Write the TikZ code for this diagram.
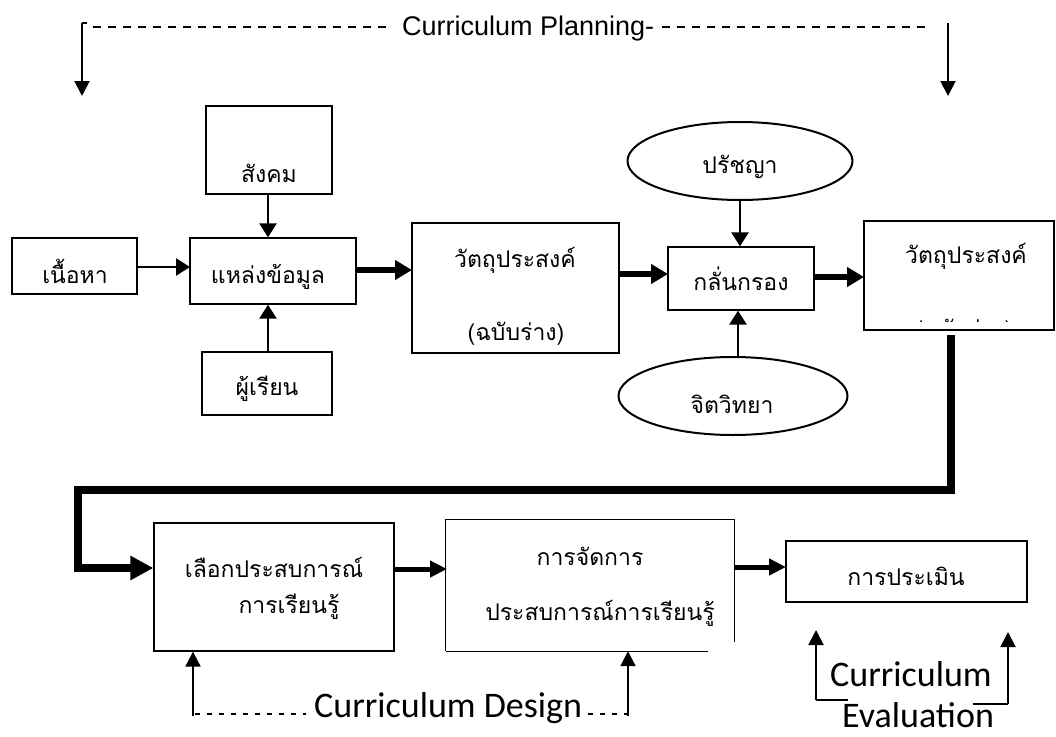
\documentclass[tikz,border=0pt]{standalone}
\usepackage{fontspec}
\setmainfont{Liberation Sans}
\newfontfamily\thaifont[Script=Thai]{Loma}
\newfontfamily\calfont{Carlito}
\newfontfamily\arialfont{Liberation Sans}
\usetikzlibrary{arrows.meta,shapes.geometric}
\begin{document}
\begin{tikzpicture}[x=1pt,y=-1pt,
  box/.style={draw,line width=1.3pt,rectangle,inner sep=0pt},
  oval/.style={draw,line width=2pt,ellipse,inner sep=0pt},
  thai/.style={font=\thaifont\fontsize{23}{27}\selectfont,inner sep=0pt},
  cal/.style={font=\calfont\fontsize{36}{40}\selectfont,inner sep=0pt},
  thinarrow/.style={line width=2.5pt,-{Triangle[width=17pt,length=14pt]}},
  thickarrow/.style={line width=6.5pt,-{Triangle[width=19pt,length=17pt]}},
  midarrow/.style={line width=5pt,-{Triangle[width=16pt,length=17pt]}},
  bigarrow/.style={line width=8pt,-{Triangle[width=23pt,length=23pt]}},
  notearrow/.style={line width=2pt,-{Triangle[width=15pt,length=15pt]}},
  dashline/.style={line width=1.2pt,dash pattern=on 8pt off 7pt},
  shortdash/.style={line width=1.2pt,dash pattern=on 5pt off 7pt}]
\useasboundingbox (0,0) rectangle (1056,736);

% ---------- top: Curriculum Planning ----------
\coordinate (pl1) at (82,23);
\coordinate (pl2) at (82,96);
\coordinate (pr1) at (948,23);
\coordinate (pr2) at (948,96);
\draw[line width=2pt] (87,23) -- (82,23);
\draw[notearrow] (pl1) -- (pl2);
\draw[notearrow] (pr1) -- (pr2);
\draw[dashline] (93,27) -- (392,27);
\draw[dashline] (662,27) -- (930,27);
\node[font=\arialfont\fontsize{27}{30}\selectfont,inner sep=0pt,anchor=base west] (tplan) at (402,35) {Curriculum Planning-};

% ---------- upper row ----------
\node[box,minimum width=125pt,minimum height=56pt] (content) at (74.5,266) {};
\node[box,minimum width=166pt,minimum height=66pt] (source) at (273,271) {};
\node[box,minimum width=126pt,minimum height=88pt] (society) at (269,150) {};
\node[box,minimum width=130pt,minimum height=63pt] (learner) at (267,383.5) {};
\node[box,minimum width=207pt,minimum height=130pt] (obj1) at (515.5,288) {};
\node[box,minimum width=146pt,minimum height=63pt] (filter) at (741,278.5) {};
\node[oval,minimum width=225pt,minimum height=78pt] (phil) at (740,161) {};
\node[oval,minimum width=229pt,minimum height=78pt] (psy) at (733,396) {};
\node[box,minimum width=190pt,minimum height=109pt] (obj2) at (959,275.5) {};

\node[thai,anchor=base] (tcontent) at (75,283) {เนื้อหา};
\node[thai,anchor=base] (tsource) at (268,283) {แหล่งข้อมูล};
\node[thai,anchor=base] (tsociety) at (269,182) {สังคม};
\node[thai,anchor=base] (tlearner) at (267,395) {ผู้เรียน};
\node[thai,anchor=base] (tobj1a) at (515,267) {วัตถุประสงค์};
\node[thai,anchor=base] (tobj1b) at (516,340) {(ฉบับร่าง)};
\node[thai,anchor=base] (tfilter) at (741,290) {กลั่นกรอง};
\node[thai,anchor=base] (tphil) at (740,173) {ปรัชญา};
\node[thai,anchor=base] (tpsy) at (732,413) {จิตวิทยา};
\node[thai,anchor=base] (tobj2a) at (966,263) {วัตถุประสงค์};
\begin{scope}
  \clip (866,300) rectangle (1052,321);
  \node[thai,anchor=base] (tobj2b) at (964,337) {(ฉบับร่าง)};
\end{scope}

% connectors upper row
\coordinate (c1) at (137,267);
\coordinate (c1e) at (190,267);
\draw[thinarrow] (c1) -- (c1e);
\draw[thinarrow] (society.south -| 268,0) -- (source.north -| 268,0);
\draw[thinarrow] (learner.north -| 268,0) -- (source.south -| 268,0);
\coordinate (c2) at (357,270);
\coordinate (c2e) at (412,270);
\draw[thickarrow] (c2) -- (c2e);
\coordinate (c3) at (619,274);
\coordinate (c3e) at (668,274);
\draw[thickarrow] (c3) -- (c3e);
\draw[thinarrow] (phil.south -| 740,0) -- (filter.north -| 740,0);
\draw[thinarrow] (psy.north -| 738,0) -- (filter.south -| 738,0);
\coordinate (c4) at (814,277);
\coordinate (c4e) at (864,277);
\draw[thickarrow] (c4) -- (c4e);

% ---------- lower row ----------
\node[box,minimum width=240pt,minimum height=128pt] (select) at (274,587) {};
\node[draw=none,minimum width=288pt,minimum height=131pt,inner sep=0pt] (manage) at (590,585.5) {};
\draw[line width=1.3pt] (manage.south west) -- (manage.north west) -- (manage.north east) -- ([yshift=9pt]manage.south east);
\draw[line width=1.3pt] (manage.south west) -- ([xshift=-26pt]manage.south east);
\node[box,minimum width=241pt,minimum height=61pt] (eval) at (906.5,571.5) {};

\node[thai,anchor=base] (tselect1) at (274,577) {เลือกประสบการณ์};
\node[thai,anchor=base] (tselect2) at (289,613) {การเรียนรู้};
\node[thai,anchor=base] (tmanage1) at (590,565) {การจัดการ};
\node[thai,anchor=base] (tmanage2) at (600,620) {ประสบการณ์การเรียนรู้};
\node[thai,anchor=base] (teval) at (906,585) {การประเมิน};

% big connector
\coordinate (b0) at (951,335);
\coordinate (b1) at (951,490);
\coordinate (b2) at (78,490);
\coordinate (b3) at (78,568);
\draw[bigarrow] (b0) -- (b1) -- (b2) -- (b3) -- (b3 -| select.west);

\coordinate (c5) at (394,569);
\coordinate (c5e) at (447,569);
\draw[midarrow] (c5) -- (c5e);
\coordinate (c6) at (734,567);
\coordinate (c6e) at (786,567);
\draw[midarrow] (c6) -- (c6e);

% ---------- Curriculum Design ----------
\coordinate (d1) at (193,716);
\coordinate (d2) at (628,716);
\draw[notearrow] (d1) -- (d1 |- select.south);
\draw[notearrow] (d2) -- (d2 |- manage.south);
\draw[shortdash] (195,714) -- (306,714);
\draw[shortdash] (588,714) -- (628,714);
\node[cal,anchor=base west] (tdesign) at (314,717) {Curriculum Design};

% ---------- Curriculum Evaluation ----------
\coordinate (e1) at (816,700);
\coordinate (e2) at (1008,704);
\draw[line width=1.5pt] (848,700) -- (e1);
\draw[notearrow] (e1) -- (816,630);
\draw[line width=1.5pt] (973,704) -- (e2);
\draw[notearrow] (e2) -- (1008,632);
\node[cal,anchor=base west] (tcurr) at (830,686) {Curriculum};
\node[cal,anchor=base west] (tevalu) at (842,727) {Evaluation};
\end{tikzpicture}
\end{document}
